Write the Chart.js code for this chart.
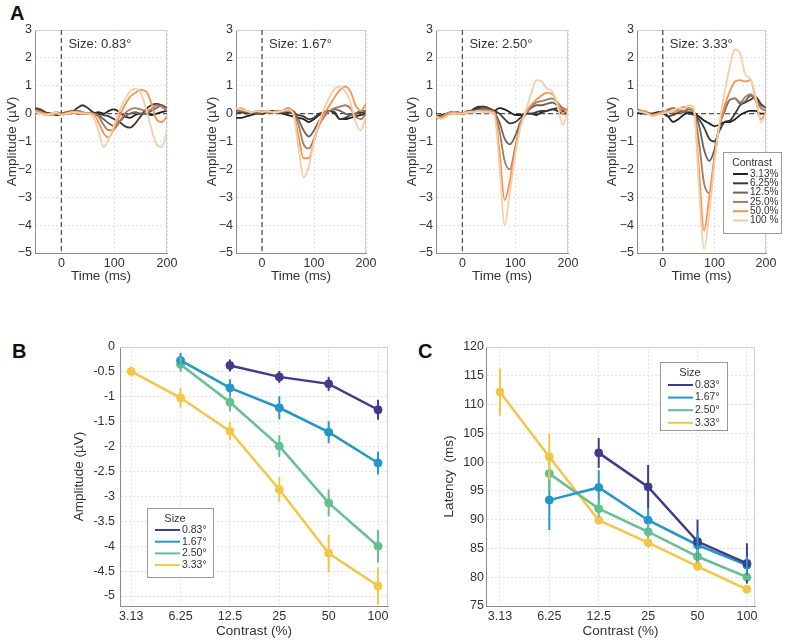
<!DOCTYPE html>
<html>
<head>
<meta charset="utf-8">
<script src="https://cdn.jsdelivr.net/npm/chart.js@4.4.0/dist/chart.umd.min.js"></script>
<style>
  body { margin: 0; background: #fff; width: 800px; height: 643px; position: relative; overflow: hidden; font-family: "Liberation Sans", Arial, sans-serif; }
  canvas { position: absolute; }
  .panel { position: absolute; font-weight: bold; font-size: 20px; color: #111; }
</style>
</head>
<body>
<div class="panel" style="left:10px;top:2px">A</div>
<div class="panel" style="left:12px;top:340px">B</div>
<div class="panel" style="left:418px;top:340px">C</div>

<canvas id="a1" width="181" height="288" style="left:0;top:0"></canvas>
<canvas id="a2" width="180" height="288" style="left:200px;top:0"></canvas>
<canvas id="a3" width="182" height="288" style="left:400px;top:0"></canvas>
<canvas id="a4" width="200" height="288" style="left:600px;top:0"></canvas>
<canvas id="b" width="365" height="313" style="left:40px;top:330px"></canvas>
<canvas id="c" width="380" height="313" style="left:420px;top:330px"></canvas>

<script>
// ---- panel A: waveforms, one row per contrast (3.13, 6.25, 12.5, 25, 50, 100 %)
const times = [-50, -40, -30, -20, -10, 0, 10, 20, 30, 40, 50, 60, 70, 80, 90, 100, 110, 120, 130, 140, 150, 160, 170, 180, 190, 200];
const contrastLabels = ['3.13%', '6.25%', '12.5%', '25.0%', '50.0%', '100 %'];
const ampTicksA = [-5, -4, -3, -2, -1, 0, 1, 2, 3];
const timeTicks = [0, 100, 200];

const wave083 = [
  [0.1, 0.05, 0, 0, 0, 0, 0.05, 0.05, 0, 0, 0, 0, 0.05, 0, 0.1, 0.15, 0.05, -0.1, -0.15, -0.05, 0, 0, -0.05, 0, 0.05, 0.1],
  [0.2, 0.15, 0.05, 0, -0.05, -0.05, 0, 0.05, 0.2, 0.3, 0.2, 0.05, 0, -0.05, -0.1, -0.2, -0.3, -0.45, -0.5, -0.35, -0.1, 0.15, 0.3, 0.35, 0.3, 0.2],
  [0.15, 0.1, 0, 0, 0, -0.05, 0.05, 0.1, 0.1, 0.05, 0, 0, -0.05, -0.2, -0.35, -0.45, -0.3, -0.1, 0, 0.05, 0, 0, 0.1, 0.2, 0.3, 0.2],
  [0.1, 0.05, -0.05, 0, 0.05, 0, 0.05, 0, 0.1, 0.05, 0, 0, -0.1, -0.4, -0.6, -0.55, -0.3, 0, 0.15, 0.2, 0.15, 0.1, 0.15, 0.3, 0.25, 0.1],
  [0.1, 0.05, 0, -0.05, 0, -0.05, 0, 0.05, 0, 0.05, 0, 0, -0.3, -0.7, -0.85, -0.5, -0.1, 0.3, 0.6, 0.75, 0.85, 0.8, 0.4, -0.2, -0.3, -0.1],
  [0.05, 0, -0.05, 0, 0.05, -0.05, 0, 0.05, 0.05, 0, 0, -0.1, -0.6, -1.2, -0.9, -0.4, 0.1, 0.5, 0.8, 0.9, 0.75, 0.2, -0.5, -1.1, -1.2, -0.6]
];
const wave167 = [
  [-0.15, -0.15, -0.1, -0.05, 0, 0, 0.05, 0.1, 0.05, 0, -0.05, -0.1, -0.15, -0.2, -0.3, -0.2, -0.05, 0.05, 0.1, 0, -0.2, -0.2, -0.15, -0.1, -0.05, 0],
  [0, 0.05, 0, 0.05, 0, 0, 0.1, 0.05, 0.05, 0, 0.05, 0, -0.05, -0.1, -0.2, -0.15, 0, 0.05, 0.1, 0.05, -0.2, -0.15, -0.05, 0, 0.05, 0],
  [0.1, 0.1, 0.05, 0.05, 0, 0.05, 0.05, 0.05, 0.1, 0.05, 0.1, 0.1, -0.2, -0.6, -0.82, -0.6, -0.25, 0, 0.1, 0.15, 0.1, 0, -0.05, 0, 0.1, 0.1],
  [0.2, 0.1, 0.1, 0.05, 0.05, 0.05, 0.1, 0.05, 0.05, 0.1, 0.2, 0.05, -0.4, -1.1, -1.25, -0.9, -0.4, -0.1, 0.1, 0.2, 0.25, 0.3, 0.2, -0.1, -0.2, 0],
  [0.15, 0.2, 0.1, 0.05, 0.1, 0.1, 0.05, 0.05, 0.1, 0.1, 0.1, 0, -0.8, -1.6, -1.6, -1.0, -0.4, 0, 0.3, 0.6, 0.85, 0.97, 0.8, 0.3, 0.1, 0.35],
  [0.2, 0.15, 0.1, 0.05, 0.1, 0.05, 0.1, 0.05, 0.05, 0.1, 0.15, 0, -1.2, -2.3, -1.9, -1.0, -0.3, 0.2, 0.6, 0.9, 0.97, 0.8, 0.4, -0.3, -0.6, -0.1]
];
const wave250 = [
  [-0.1, -0.05, 0, 0.05, 0, 0, 0.05, 0.1, 0.2, 0.25, 0.15, 0.1, 0.2, 0.15, 0.05, -0.05, -0.05, 0, 0, -0.05, 0.05, 0.1, 0.15, 0.1, 0, 0],
  [-0.15, -0.15, -0.05, 0, 0.05, 0, 0.05, 0.15, 0.25, 0.25, 0.2, 0.1, 0, -0.2, -0.35, -0.3, -0.15, 0, 0, 0.05, 0.1, 0.1, 0.15, 0.2, 0.1, 0],
  [-0.1, -0.1, 0, 0.05, 0, 0, 0.1, 0.1, 0.15, 0.2, 0.15, 0.05, -0.3, -0.9, -1.1, -0.8, -0.3, 0, 0.2, 0.3, 0.3, 0.35, 0.4, 0.3, 0.2, 0.1],
  [-0.2, -0.1, -0.05, 0, 0.05, 0, 0.05, 0.1, 0.1, 0.15, 0.1, 0.05, -0.6, -1.7, -2.0, -1.2, -0.4, 0, 0.25, 0.4, 0.45, 0.5, 0.55, 0.4, 0.2, 0.1],
  [-0.1, -0.15, 0, 0.05, 0, 0, 0.05, 0.05, 0.1, 0.1, 0.1, 0.05, -1.3, -3.1, -2.4, -1.3, -0.4, 0.05, 0.3, 0.5, 0.65, 0.75, 0.7, 0.4, 0, 0.2],
  [-0.1, -0.2, -0.1, 0, 0, 0, 0.05, 0.05, 0.1, 0.05, 0.05, 0, -1.8, -4.0, -2.8, -1.5, -0.5, 0.1, 0.7, 1.2, 1.15, 0.9, 0.8, 0.3, -0.4, 0.1]
];
const wave333 = [
  [0.05, 0, 0, 0, 0.05, 0.05, -0.1, -0.3, -0.2, -0.05, 0.05, 0, -0.1, -0.25, -0.35, -0.45, -0.4, -0.3, -0.3, -0.2, -0.05, 0.05, 0.1, 0.1, 0, 0],
  [0.1, 0.05, 0, 0, 0, 0, -0.1, -0.05, 0.05, 0.1, 0, -0.05, -0.2, -0.5, -0.9, -1.0, -0.6, -0.3, -0.25, 0, 0.3, 0.4, 0.5, 0.6, 0.35, 0.2],
  [0.05, 0.1, 0, -0.05, 0, 0, 0.15, 0.2, 0.1, 0.05, 0.15, 0.05, -0.4, -1.3, -1.7, -1.3, -0.4, 0.1, 0.5, 0.55, 0.35, 0.45, 0.65, 0.5, 0.3, 0.2],
  [0.15, 0.1, 0.05, -0.05, 0, 0.05, 0.1, 0.2, 0.15, 0.1, 0.2, 0.1, -1.0, -2.5, -2.85, -1.6, -0.4, 0.2, 0.5, 0.55, 0.4, 0.6, 0.7, 0.5, 0.2, 0.1],
  [0.1, 0.1, 0, -0.05, 0, 0.05, 0.1, 0.05, 0.1, 0.25, 0.2, 0.1, -2.0, -4.2, -3.0, -1.6, -0.4, 0.3, 0.8, 1.15, 1.2, 1.15, 1.2, 0.5, -0.2, 0.05],
  [0.1, 0.05, 0, -0.1, -0.05, 0, 0.05, 0.1, 0.2, 0.15, 0.3, 0.2, -2.6, -4.85, -3.6, -1.8, -0.3, 0.8, 1.7, 2.3, 2.15, 1.4, 1.25, 0.6, -0.3, 0]
];

// ---- panels B and C: per size, values at each contrast (null = not measured)
const contrasts = [3.125, 6.25, 12.5, 25, 50, 100];
const contrastTickLabels = ['3.13', '6.25', '12.5', '25', '50', '100'];
const sizeLabels = ['0.83°', '1.67°', '2.50°', '3.33°'];

const amp083 = [null, null, -0.37, -0.6, -0.74, -1.26];
const amp167 = [null, -0.27, -0.82, -1.22, -1.71, -2.33];
const amp250 = [null, -0.35, -1.11, -1.99, -3.13, -4.0];
const amp333 = [-0.49, -1.02, -1.69, -2.86, -4.14, -4.8];
const ampErr083 = [null, null, 0.12, 0.12, 0.14, 0.2];
const ampErr167 = [null, 0.15, 0.17, 0.23, 0.22, 0.23];
const ampErr250 = [null, 0.15, 0.18, 0.22, 0.27, 0.33];
const ampErr333 = [0.1, 0.2, 0.18, 0.25, 0.38, 0.37];
const ampTicksB = [0, -0.5, -1, -1.5, -2, -2.5, -3, -3.5, -4, -4.5, -5];

const lat083 = [null, null, 101.6, 95.7, 86.2, 82.4];
const lat167 = [null, 93.4, 95.6, 89.9, 85.6, 82.1];
const lat250 = [null, 98.0, 91.9, 87.9, 83.6, 80.0];
const lat333 = [112.2, 100.9, 89.9, 86.0, 81.9, 77.9];
const latErr083 = [null, null, 2.6, 3.8, 3.8, 3.5];
const latErr167 = [null, 5.2, 3.0, 2.0, 2.0, 1.5];
const latErr250 = [null, 3.0, 1.5, 1.5, 1.3, 0.5];
const latErr333 = [4.1, 4.0, 0.5, 0.8, 0.8, 0.5];
const latTicks = [75, 80, 85, 90, 95, 100, 105, 110, 115, 120];

const contrastColors = ['#222222', '#3f3936', '#6f6058', '#a97a58', '#f39454', '#f7cda6'];
const sizeColors = ['#3f3b8e', '#2397cc', '#63c08f', '#f4c648'];

Chart.defaults.font.family = '"Liberation Sans", Arial, sans-serif';
Chart.defaults.color = '#333';
Chart.defaults.animation = false;

const tickFont = { size: 12.5 };
const titleFont = { size: 13.5 };
const gridOpts = { color: '#e2e2e2', drawTicks: false };
const borderOpts = { color: '#8c8c8c', dash: [2, 2] };
const minusFmt = v => (v < 0 ? '\u2212' + Math.abs(v) : String(v));

function drawTopRight(ctx, a) {
  ctx.save();
  ctx.strokeStyle = '#d0d0d0';
  ctx.lineWidth = 1;
  ctx.beginPath();
  ctx.moveTo(a.left, a.top + 0.5);
  ctx.lineTo(a.right - 0.5, a.top + 0.5);
  ctx.lineTo(a.right - 0.5, a.bottom);
  ctx.stroke();
  ctx.restore();
}

function drawLegend(ctx, box, title, labels, colors, font) {
  ctx.save();
  ctx.fillStyle = '#fff';
  ctx.fillRect(box.x, box.y, box.w, box.h);
  ctx.strokeStyle = '#9a9a9a';
  ctx.lineWidth = 1;
  ctx.strokeRect(box.x + 0.5, box.y + 0.5, box.w, box.h);
  ctx.fillStyle = '#333';
  ctx.textBaseline = 'middle';
  ctx.font = (font + 0.5) + 'px "Liberation Sans", Arial, sans-serif';
  ctx.textAlign = 'center';
  ctx.fillText(title, box.titleX, box.titleY);
  ctx.font = font + 'px "Liberation Sans", Arial, sans-serif';
  ctx.textAlign = 'left';
  labels.forEach((lab, k) => {
    const y = box.rowY + k * box.rowH;
    ctx.strokeStyle = colors[k];
    ctx.lineWidth = 2;
    ctx.beginPath();
    ctx.moveTo(box.lineX0, y);
    ctx.lineTo(box.lineX1, y);
    ctx.stroke();
    ctx.fillText(lab, box.lineX1 + 2, y);
  });
  ctx.restore();
}

function waveChart(id, sizeText, rows, axisW, legendBox) {
  const canvas = document.getElementById(id);
  const padRight = canvas.width - (id === 'a4' ? 166 : canvas.width - 14);
  new Chart(canvas, {
    type: 'line',
    data: {
      datasets: rows.map((row, k) => ({
        label: contrastLabels[k],
        data: times.map((t, i) => ({ x: t, y: row[i] })),
        borderColor: contrastColors[k],
        borderWidth: 1.8,
        pointRadius: 0,
        cubicInterpolationMode: 'monotone',
        order: rows.length - k
      }))
    },
    options: {
      responsive: false,
      layout: { padding: { top: 30, left: 0, right: padRight, bottom: 0 } },
      plugins: { legend: { display: false }, tooltip: { enabled: false } },
      scales: {
        x: {
          type: 'linear', min: -50, max: 200,
          afterBuildTicks: axis => { axis.ticks = timeTicks.map(v => ({ value: v })); },
          afterFit: axis => { axis.height = 35; },
          grid: gridOpts, border: borderOpts,
          ticks: { font: tickFont, padding: 3, maxRotation: 0 },
          title: { display: true, text: 'Time (ms)', font: titleFont }
        },
        y: {
          min: -5, max: 3,
          afterBuildTicks: axis => { axis.ticks = ampTicksA.map(v => ({ value: v })); },
          afterFit: axis => { axis.width = axisW; },
          grid: gridOpts, border: borderOpts,
          ticks: { font: tickFont, padding: 3, callback: minusFmt },
          title: { display: true, text: 'Amplitude (µV)', font: titleFont }
        }
      }
    },
    plugins: [{
      id: 'waveDecor',
      beforeDatasetsDraw(chart) {
        const { ctx, chartArea: a, scales: { x, y } } = chart;
        drawTopRight(ctx, a);
        ctx.save();
        ctx.setLineDash([5, 3]);
        ctx.strokeStyle = '#555';
        ctx.lineWidth = 1.3;
        const x0 = x.getPixelForValue(0), y0 = y.getPixelForValue(0);
        ctx.beginPath(); ctx.moveTo(x0, a.top); ctx.lineTo(x0, a.bottom); ctx.stroke();
        ctx.beginPath(); ctx.moveTo(a.left, y0); ctx.lineTo(a.right, y0); ctx.stroke();
        ctx.restore();
      },
      afterDatasetsDraw(chart) {
        const { ctx, chartArea: a, scales: { x } } = chart;
        ctx.save();
        ctx.fillStyle = '#333';
        ctx.font = '13px "Liberation Sans", Arial, sans-serif';
        ctx.textBaseline = 'middle';
        ctx.fillText('Size: ' + sizeText, x.getPixelForValue(0) + 7, a.top + 14);
        ctx.restore();
        if (legendBox) drawLegend(ctx, legendBox, 'Contrast', contrastLabels, contrastColors, 10);
      }
    }]
  });
}

waveChart('a1', '0.83°', wave083, 35, null);
waveChart('a2', '1.67°', wave167, 36, null);
waveChart('a3', '2.50°', wave250, 36, null);
waveChart('a4', '3.33°', wave333, 37, {
  x: 123, y: 152, w: 58, h: 81, titleX: 152, titleY: 163,
  rowY: 174, rowH: 9.3, lineX0: 133, lineX1: 148
});

function points(vals, errs) {
  return contrasts
    .map((c, i) => ({ x: c, y: vals[i], e: errs[i] }))
    .filter(p => p.y !== null);
}

const errorBars = {
  id: 'errorBars',
  afterDatasetsDraw(chart) {
    const { ctx, scales: { y } } = chart;
    chart.data.datasets.forEach((ds, i) => {
      const meta = chart.getDatasetMeta(i);
      ctx.save();
      ctx.strokeStyle = ds.borderColor;
      ctx.lineWidth = 2;
      ds.data.forEach((p, j) => {
        const px = meta.data[j].x;
        ctx.beginPath();
        ctx.moveTo(px, y.getPixelForValue(p.y - p.e));
        ctx.lineTo(px, y.getPixelForValue(p.y + p.e));
        ctx.stroke();
      });
      ctx.restore();
    });
  }
};

function trendChart(id, series, errs, yOpts, axisW, padLeft, tickPad, legendBox) {
  const canvas = document.getElementById(id);
  new Chart(canvas, {
    type: 'line',
    data: {
      datasets: series.map((vals, k) => ({
        label: sizeLabels[k],
        data: points(vals, errs[k]),
        borderColor: sizeColors[k],
        backgroundColor: sizeColors[k],
        borderWidth: 2.5,
        pointRadius: 4,
        pointBorderWidth: 1,
        tension: 0
      }))
    },
    options: {
      responsive: false,
      layout: { padding: { top: 17, left: padLeft, right: yOpts.padRight, bottom: 0 } },
      plugins: { legend: { display: false }, tooltip: { enabled: false } },
      scales: {
        x: {
          type: 'logarithmic', min: yOpts.xMin, max: yOpts.xMax,
          afterBuildTicks: axis => { axis.ticks = contrasts.map(v => ({ value: v })); },
          afterFit: axis => { axis.height = 37; },
          grid: gridOpts, border: borderOpts,
          ticks: { font: tickFont, padding: 3, maxRotation: 0, autoSkip: false,
            callback: (v, i) => contrastTickLabels[i] },
          title: { display: true, text: 'Contrast (%)', font: titleFont }
        },
        y: {
          min: yOpts.min, max: yOpts.max,
          afterBuildTicks: axis => { axis.ticks = yOpts.ticks.map(v => ({ value: v })); },
          afterFit: axis => { axis.width = axisW; },
          grid: gridOpts, border: borderOpts,
          ticks: { font: tickFont, padding: tickPad, autoSkip: false, callback: v => String(v) },
          title: { display: true, text: yOpts.title, font: titleFont }
        }
      }
    },
    plugins: [errorBars, {
      id: 'trendDecor',
      beforeDatasetsDraw(chart) { drawTopRight(chart.ctx, chart.chartArea); },
      afterDraw(chart) { drawLegend(chart.ctx, legendBox, 'Size', sizeLabels, sizeColors, 10.5); }
    }]
  });
}

trendChart('b', [amp083, amp167, amp250, amp333], [ampErr083, ampErr167, ampErr250, ampErr333],
  { min: -5.2, max: 0, ticks: ampTicksB, title: 'Amplitude (µV)', xMin: 2.67, xMax: 115, padRight: 17 },
  53, 27, 5,
  { x: 107, y: 178, w: 66, h: 69, titleX: 135, titleY: 189, rowY: 200, rowH: 11.7, lineX0: 115, lineX1: 140 });

trendChart('c', [lat083, lat167, lat250, lat333], [latErr083, latErr167, latErr250, latErr333],
  { min: 75, max: 120, ticks: latTicks, title: 'Latency  (ms)', xMin: 2.57, xMax: 112, padRight: 45 },
  49, 17, 2,
  { x: 240, y: 32, w: 67, h: 68, titleX: 270, titleY: 43, rowY: 55, rowH: 12.6, lineX0: 248, lineX1: 273 });
</script>
</body>
</html>
